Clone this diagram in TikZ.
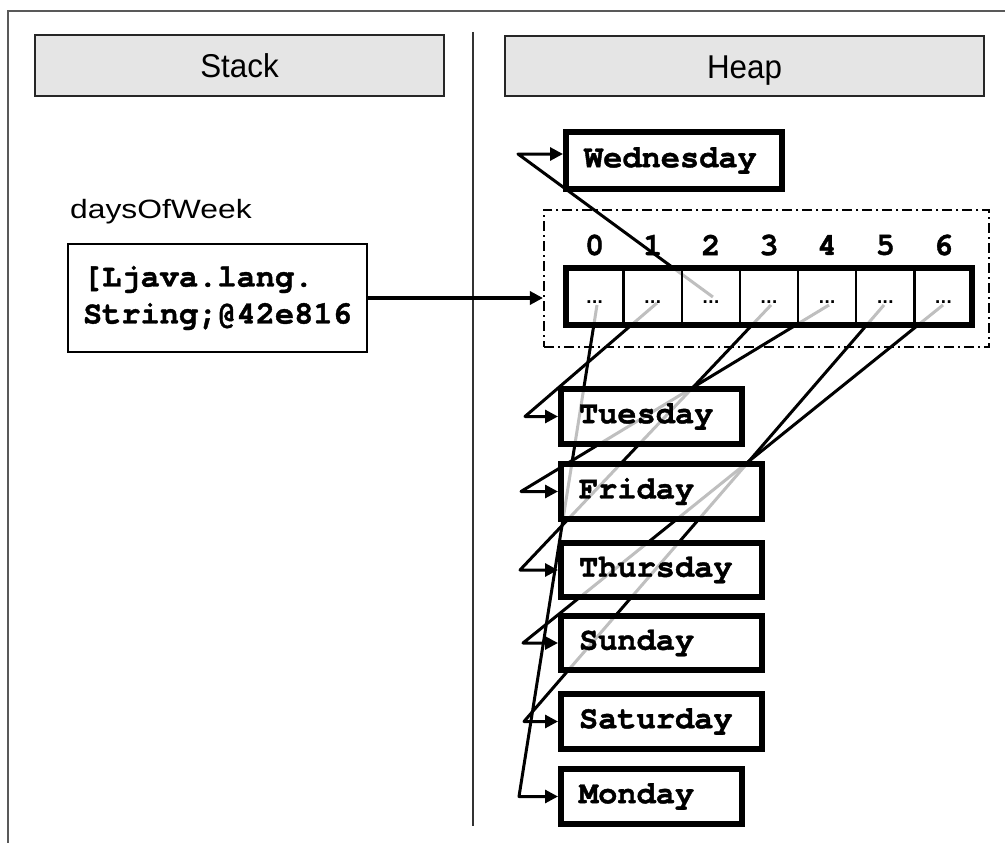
\documentclass[tikz,border=0pt]{standalone}
\usepackage{fontspec}
\setmainfont{Liberation Sans}
\newfontfamily\courfont{TeX Gyre Cursor}[BoldFeatures={FakeBold=1.2}]
\newfontfamily\dotfont{DejaVu Sans}
\usetikzlibrary{arrows.meta,calc}
\begin{document}
\begin{tikzpicture}[x=1pt,y=-1pt,
  conn/.style={line width=3pt, black, line join=round},
  tip/.style={-{Triangle[length=13pt,width=13pt]}},
  hdr/.style={draw=black!85, line width=1.6pt, fill=black!10, inner sep=0pt,
    text height=24pt, text depth=0pt, font=\fontsize{33}{38}\selectfont},
  daybox/.style={draw=black, line width=6pt, fill=white, fill opacity=0.75,
    text opacity=1, inner xsep=18pt, inner ysep=0pt, minimum height=56pt,
    align=left, font=\courfont\bfseries\fontsize{32}{36}\selectfont},
  cell/.style={draw=black, line width=2.4pt, fill=white, fill opacity=0.75,
    text opacity=1, inner sep=0pt, outer sep=0pt, minimum width=58.143pt,
    minimum height=57pt, text height=14pt, text depth=0pt,
    font=\dotfont\bfseries\fontsize{15}{16}\selectfont},
  idx/.style={inner sep=0pt, font=\courfont\bfseries\fontsize{32}{34}\selectfont},
  dashbox/.style={draw=black, line width=1.6pt,
    dash pattern=on 10pt off 4pt on 2pt off 4pt, inner sep=0pt,
    minimum width=445.5pt, minimum height=137.5pt},
  refbox/.style={draw=black, line width=2.2pt, fill=white, inner xsep=15pt,
    inner ysep=0pt, minimum height=108pt, text width=269pt, align=left,
    font=\courfont\bfseries\fontsize{32}{37}\selectfont}
]
\useasboundingbox (0,0) rectangle (1005,843);
% outer frame and divider
\draw[line width=1.6pt, black!65] (1005,11) -- (8,11) -- (8,843);
\draw[line width=1.6pt, black!80] (473,32) -- (473,826);
% headers
\node[hdr, minimum width=409.5pt, minimum height=61.5pt] (hstack) at (239.5,65.5) {\scalebox{0.95}[1]{Stack}};
\node[hdr, minimum width=479.5pt, minimum height=60.5pt] (hheap) at (744.5,66) {\scalebox{0.95}[1]{Heap}};
% stack side
\node[anchor=base west, inner sep=0pt] (dow) at (70,218.3) {\scalebox{1.2}[1]{\fontsize{26.5}{30}\selectfont daysOfWeek}};
\node[refbox, minimum width=299pt] (stk) at (217.5,298) {[Ljava.lang.\\String;@42e816};
% dashed array frame
\node[dashbox] (dash) at (766.5,278.5) {};
% stack reference arrow
\draw[conn, line width=3.2pt, tip] (stk.east) -- (stk.east -| dash.west);
% corner points of the connectors
\coordinate (k0) at (519,796.5);
\coordinate (k1) at (525,416.5);
\coordinate (k2) at (518,154);
\coordinate (k3) at (520,570);
\coordinate (k4) at (521,491.5);
\coordinate (k5) at (524,721.5);
\coordinate (k6) at (523,643);
% cell positions
\path (594.6,296) coordinate (p0) (652.7,296) coordinate (p1) (710.9,296) coordinate (p2)
      (769,296) coordinate (p3) (827.1,296) coordinate (p4) (885.3,296) coordinate (p5)
      (943.4,296) coordinate (p6);
% day box positions
\path (674,160.5) coordinate (pwed) (651.5,416.5) coordinate (ptue) (661.5,491.5) coordinate (pfri)
      (661.5,570) coordinate (pthu) (661.5,643) coordinate (psun) (661.5,721.5) coordinate (psat)
      (651.5,796.5) coordinate (pmon);
% connectors (drawn under the boxes)
\draw[conn, tip] ($(p0)+(2.4,9)$) -- (k0) -- (k0 -| 558,0);
\draw[conn, tip] ($(p1)+(4.3,7)$) -- (k1) -- (k1 -| 558,0);
\draw[conn, tip] ($(p2)+(2,1)$) -- (k2) -- (k2 -| 563,0);
\draw[conn, tip] ($(p3)+(2,9)$) -- (k3) -- (k3 -| 558,0);
\draw[conn, tip] ($(p4)+(1.9,9)$) -- (k4) -- (k4 -| 558,0);
\draw[conn, tip] ($(p5)+(-1.3,9)$) -- (k5) -- (k5 -| 558,0);
\draw[conn, tip] ($(p6)+(-0.4,9)$) -- (k6) -- (k6 -| 558,0);
% day boxes
\node[daybox, minimum height=57pt, text width=180pt] (wed) at (pwed) {Wednesday};
\node[daybox, minimum height=55pt, text width=145pt] (tue) at (ptue) {Tuesday};
\node[daybox, minimum height=55pt, text width=165pt] (fri) at (pfri) {Friday};
\node[daybox, minimum height=54pt, text width=165pt] (thu) at (pthu) {Thursday};
\node[daybox, minimum height=54pt, text width=165pt] (sun) at (psun) {Sunday};
\node[daybox, minimum height=55pt, text width=165pt] (sat) at (psat) {Saturday};
\node[daybox, minimum height=55pt, text width=145pt] (mon) at (pmon) {Monday};
% array cells
\foreach \i in {0,...,6} {
  \node[cell] (c\i) at (p\i) {...};
  \node[idx] (n\i) at ($(p\i)+(0,-51)$) {\i};
}
\draw[line width=6pt] (c0.north west) rectangle (c6.south east);
\end{tikzpicture}
\end{document}
